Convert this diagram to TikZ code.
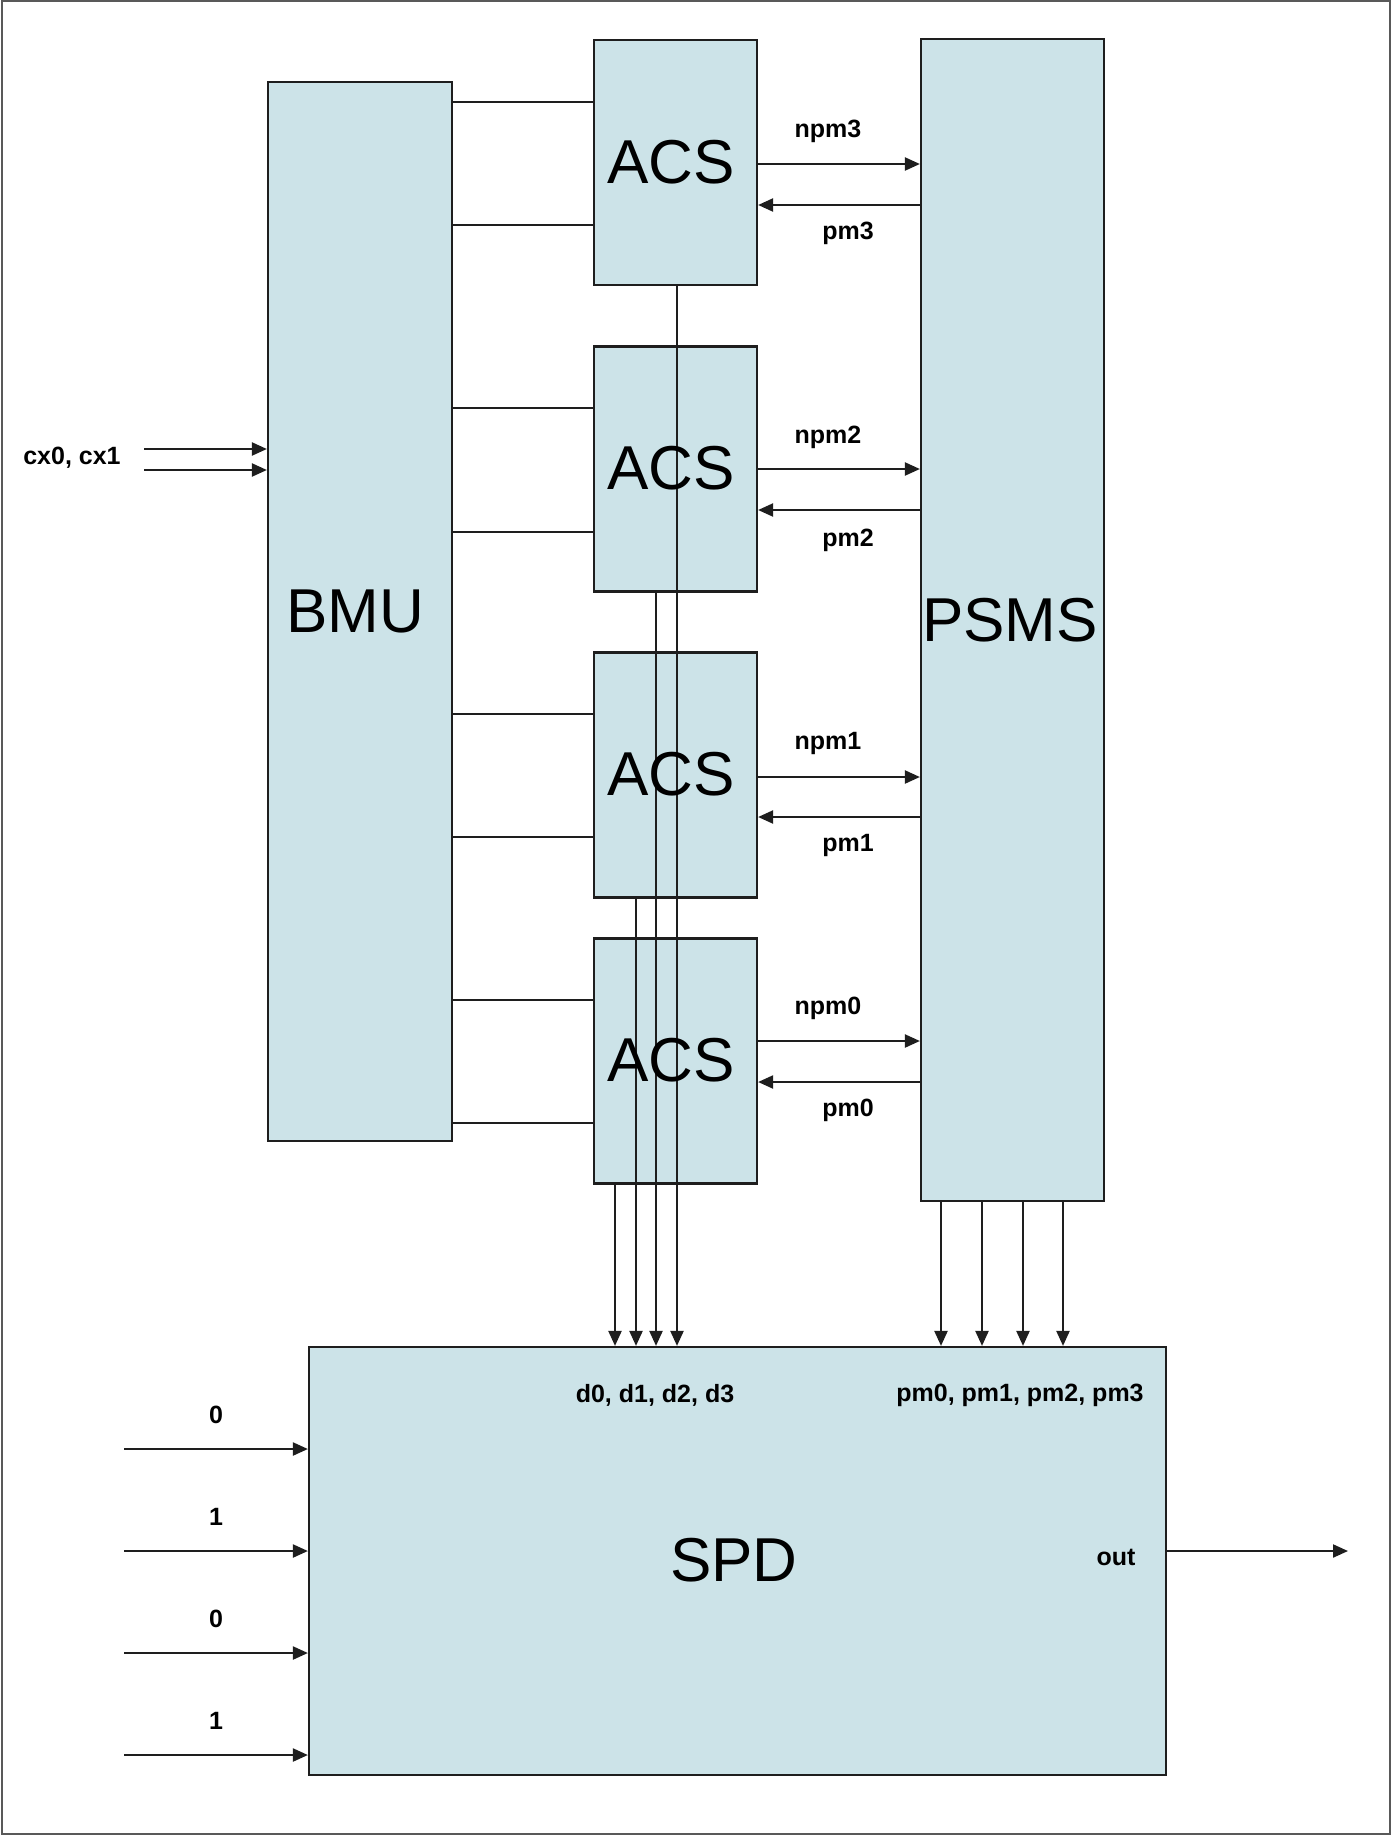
\documentclass[tikz,border=0pt]{standalone}
\usepackage{fontspec}
\setmainfont{Liberation Sans}
\usetikzlibrary{arrows.meta}
\definecolor{boxfill}{RGB}{204,227,232}
\definecolor{edge}{RGB}{30,30,30}
\tikzset{
  blk/.style={draw=edge, fill=boxfill, line width=1.1pt, inner sep=0pt},
  big/.style={inner sep=0pt, font=\fontsize{31}{32}\selectfont},
  lbl/.style={inner sep=0pt, font=\bfseries\fontsize{12.5}{13}\selectfont},
  wire/.style={draw=edge, line width=1.1pt},
  arr/.style={wire, -{Triangle[length=7.5pt, width=6.5pt]}}
}
\begin{document}
\begin{tikzpicture}[x=0.5pt, y=-0.5pt]
\useasboundingbox (0,0) rectangle (1394,1836);
\draw[gray!70!black, line width=1pt] (2,1) rectangle (1390,1834);

\node[blk, minimum width=92pt, minimum height=529.5pt] (bmu) at (360,611.5) {};
\node[blk, minimum width=81.5pt, minimum height=122.5pt] (acs3) at (675.5,162.5) {};
\node[blk, minimum width=81.5pt, minimum height=122.5pt] (acs2) at (675.5,469) {};
\node[blk, minimum width=81.5pt, minimum height=122.5pt] (acs1) at (675.5,775) {};
\node[blk, minimum width=81.5pt, minimum height=122.5pt] (acs0) at (675.5,1061) {};
\node[blk, minimum width=91.5pt, minimum height=581pt] (psms) at (1012.5,620) {};
\node[blk, minimum width=428.5pt, minimum height=214pt] (spd) at (737.5,1561) {};

\node[big] (bmut) at (355,611) {BMU};
\node[big] (psmst) at (1010,620) {PSMS};
\node[big] (spdt) at (734,1560) {SPD};

% BMU to ACS lines
\foreach \a/\ya/\yb in {acs3/102/225, acs2/408/532, acs1/714/837, acs0/1000/1123} {
  \draw[wire] (bmu.east |- 0,\ya) -- (\a.west |- 0,\ya);
  \draw[wire] (bmu.east |- 0,\yb) -- (\a.west |- 0,\yb);
}

% ACS <-> PSMS
\foreach \a/\ya/\yb in {acs3/164/205, acs2/469/510, acs1/777/817, acs0/1041/1082} {
  \draw[arr] (\a.east |- 0,\ya) -- (psms.west |- 0,\ya);
  \draw[arr] (psms.west |- 0,\yb) -- (\a.east |- 0,\yb);
}
\node[lbl] (n3) at (828,131) {npm3};
\node[lbl] (p3) at (848,233) {pm3};
\node[lbl] (n2) at (828,437) {npm2};
\node[lbl] (p2) at (848,540) {pm2};
\node[lbl] (n1) at (828,743) {npm1};
\node[lbl] (p1) at (848,845) {pm1};
\node[lbl] (n0) at (828,1008) {npm0};
\node[lbl] (p0) at (848,1110) {pm0};

% ACS to SPD decision lines
\draw[arr] (acs0.south -| 615,0) -- (spd.north -| 615,0);
\draw[arr] (acs1.south -| 636,0) -- (spd.north -| 636,0);
\draw[arr] (acs2.south -| 656,0) -- (spd.north -| 656,0);
\draw[arr] (acs3.south -| 677,0) -- (spd.north -| 677,0);

% ACS labels drawn on top of lines
\node[big] (t3) at (671,162) {ACS};
\node[big] (t2) at (671,468) {ACS};
\node[big] (t1) at (671,774) {ACS};
\node[big] (t0) at (671,1060) {ACS};

% PSMS to SPD
\foreach \x in {941,982,1023,1063} {
  \draw[arr] (psms.south -| \x,0) -- (spd.north -| \x,0);
}
\node[lbl] (dl) at (655,1395) {d0, d1, d2, d3};
\node[lbl] (pl) at (1020,1395) {pm0, pm1, pm2, pm3};

% cx inputs
\coordinate (cxa) at (144,449);
\coordinate (cxb) at (144,470);
\draw[arr] (cxa) -- (bmu.west |- cxa);
\draw[arr] (cxb) -- (bmu.west |- cxb);
\node[lbl] (cxl) at (72,458) {cx0, cx1};

% SPD inputs
\foreach \y/\v [count=\i] in {1449/0, 1551/1, 1653/0, 1755/1} {
  \coordinate (in\i) at (124,\y);
  \draw[arr] (in\i) -- (spd.west |- in\i);
  \node[lbl] (inl\i) at (216,\y-34) {\v};
}

% output
\coordinate (outc) at (1348,1551);
\draw[arr] (spd.east |- outc) -- (outc);
\node[lbl] (outl) at (1116,1557) {out};
\end{tikzpicture}
\end{document}
